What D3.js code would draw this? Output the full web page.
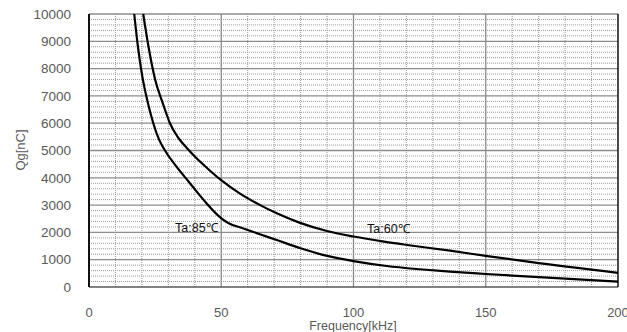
<!DOCTYPE html>
<html>
<head>
<meta charset="utf-8">
<script src="https://cdn.jsdelivr.net/npm/d3@7"></script>
<style>
  body { margin: 0; background: #fff; }
  svg { display: block; font-family: "Liberation Sans", Arial, sans-serif; }
</style>
</head>
<body>
<svg width="627" height="332"></svg>
<script>
// values
const freq60 = [20.5, 22.5, 25, 28, 30.6, 33.5, 36.9, 40, 44.5, 49.5, 57.1, 64.7, 71, 79.8, 90, 100, 111, 121, 136.5, 150, 168, 200]
const qg60   = [10000, 8800, 7600, 6700, 6000, 5500, 5100, 4780, 4370, 3950, 3420, 3000, 2700, 2350, 2050, 1850, 1670, 1530, 1330, 1140, 900, 520]
const freq85 = [17.1, 18.5, 20, 22, 24.3, 26.5, 29.4, 33, 36.9, 40.5, 44.5, 49.5, 52, 54.5, 57, 64.6, 71, 80, 90, 100, 112.6, 125, 136.5, 150, 200]
const qg85   = [10000, 8800, 7800, 6850, 6000, 5400, 4900, 4420, 3950, 3520, 3060, 2560, 2380, 2260, 2190, 1930, 1720, 1420, 1140, 950, 770, 650, 560, 476, 195]
const xTicks = [0, 50, 100, 150, 200]
const yTicks = [0, 1000, 2000, 3000, 4000, 5000, 6000, 7000, 8000, 9000, 10000]

const svg = d3.select("svg")
const pLeft = 89, pRight = 618, pTop = 14, pBottom = 287

const x = d3.scaleLinear().domain([0, 200]).range([pLeft, pRight])
const y = d3.scaleLinear().domain([0, 10000]).range([pBottom, pTop])

const grid = svg.append("g")

// minor grid, dotted
grid.selectAll(".vminor")
    .data(d3.range(10, 200, 10).filter(d => d % 50 != 0))
    .enter().append("line")
    .attr("x1", d => x(d)).attr("x2", d => x(d))
    .attr("y1", pTop).attr("y2", pBottom)
    .attr("stroke", "#9a9a9a").attr("stroke-dasharray", "1,1")

grid.selectAll(".hminor")
    .data(d3.range(200, 10000, 200).filter(d => d % 1000 != 0))
    .enter().append("line")
    .attr("x1", pLeft).attr("x2", pRight)
    .attr("y1", d => y(d)).attr("y2", d => y(d))
    .attr("stroke", "#9a9a9a").attr("stroke-dasharray", "1,1")

// major grid
grid.selectAll(".vmajor")
    .data([50, 100, 150])
    .enter().append("line")
    .attr("x1", d => x(d)).attr("x2", d => x(d))
    .attr("y1", pTop).attr("y2", pBottom)
    .attr("stroke", "#8c8c8c").attr("stroke-width", 1.3)

grid.selectAll(".hmajor")
    .data(yTicks.slice(1, -1))
    .enter().append("line")
    .attr("x1", pLeft).attr("x2", pRight)
    .attr("y1", d => y(d)).attr("y2", d => y(d))
    .attr("stroke", "#8c8c8c").attr("stroke-width", 1.3)

// frame
svg.append("line").attr("x1", pLeft).attr("x2", pRight).attr("y1", pTop).attr("y2", pTop)
    .attr("stroke", "#8c8c8c").attr("stroke-width", 1.3)
svg.append("line").attr("x1", pLeft).attr("x2", pRight).attr("y1", pBottom).attr("y2", pBottom)
    .attr("stroke", "#595959").attr("stroke-width", 1.5)
svg.append("line").attr("x1", pLeft).attr("x2", pLeft).attr("y1", pTop).attr("y2", pBottom)
    .attr("stroke", "#111").attr("stroke-width", 2)
svg.append("line").attr("x1", pRight).attr("x2", pRight).attr("y1", pTop).attr("y2", pBottom)
    .attr("stroke", "#111").attr("stroke-width", 1.5)

// curves
const line = d3.line()
    .x(d => x(d[0]))
    .y(d => y(d[1]))
    .curve(d3.curveMonotoneX)

svg.append("path")
    .datum(d3.zip(freq60, qg60))
    .attr("d", line)
    .attr("fill", "none").attr("stroke", "#000").attr("stroke-width", 2.2)

svg.append("path")
    .datum(d3.zip(freq85, qg85))
    .attr("d", line)
    .attr("fill", "none").attr("stroke", "#000").attr("stroke-width", 2.2)

// tick labels
svg.append("g").selectAll("text")
    .data(yTicks)
    .enter().append("text")
    .attr("x", 71).attr("y", d => y(d)).attr("dy", "0.35em")
    .attr("text-anchor", "end")
    .attr("font-size", 13.5).attr("fill", "#595959")
    .text(d => d)

svg.append("g").selectAll("text")
    .data(xTicks)
    .enter().append("text")
    .attr("x", d => x(d)).attr("y", 317)
    .attr("text-anchor", "middle")
    .attr("font-size", 13).attr("fill", "#595959")
    .text(d => d)

// axis titles
svg.append("text")
    .attr("x", 353).attr("y", 330)
    .attr("text-anchor", "middle")
    .attr("font-size", 12.5).attr("fill", "#595959")
    .text("Frequency[kHz]")

svg.append("text")
    .attr("transform", "translate(25,150) rotate(-90)")
    .attr("text-anchor", "middle")
    .attr("font-size", 13).attr("fill", "#595959")
    .text("Qg[nC]")

// curve labels
svg.append("text")
    .attr("x", 175).attr("y", 232)
    .attr("font-size", 12.5).attr("fill", "#111")
    .text("Ta:85℃")

svg.append("text")
    .attr("x", 367).attr("y", 233)
    .attr("font-size", 12.5).attr("fill", "#111")
    .text("Ta:60℃")
</script>
</body>
</html>
